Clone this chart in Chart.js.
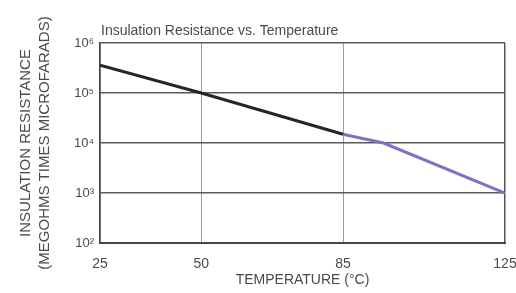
<!DOCTYPE html>
<html>
<head>
<meta charset="utf-8">
<script src="https://cdn.jsdelivr.net/npm/chart.js@4.4.1/dist/chart.umd.min.js"></script>
<style>
html,body{margin:0;padding:0;background:#fff;}
#wrap{width:516px;height:293px;position:relative;}
</style>
</head>
<body>
<div id="wrap"><canvas id="c" width="516" height="293"></canvas></div>
<script>
const chartTitle = 'Insulation Resistance vs. Temperature';
const xTitle = 'TEMPERATURE (°C)';
const yTitle = ['INSULATION RESISTANCE', '(MEGOHMS TIMES MICROFARADS)'];
const temperatures = [25, 50, 85, 95, 125];
const xTickValues = [25, 50, 85, 125];
const yTickValues = [100, 1000, 10000, 100000, 1000000];
const yTickLabels = ['10²', '10³', '10⁴', '10⁵', '10⁶'];
const resistanceLow = [360000, 100000, 15000, null, null];
const resistanceHigh = [null, null, 15000, 10000, 1000];

const FONT = "'Liberation Sans', Arial, sans-serif";
const TXT = '#4a4a4a';

const titlePlugin = {
  id: 'leftTitle',
  afterDraw(chart) {
    const {ctx, chartArea} = chart;
    ctx.save();
    ctx.font = '14px ' + FONT;
    ctx.fillStyle = TXT;
    ctx.textAlign = 'left';
    ctx.textBaseline = 'alphabetic';
    ctx.fillText(chartTitle, chartArea.left + 1, chartArea.top - 8);
    ctx.restore();
  }
};

const toPts = arr => temperatures.map((t, i) => ({x: t, y: arr[i]}));

new Chart(document.getElementById('c'), {
  type: 'line',
  data: {
    datasets: [
      {data: toPts(resistanceLow), borderColor: '#262626', borderWidth: 3, pointRadius: 0, tension: 0},
      {data: toPts(resistanceHigh), borderColor: '#7f72c6', borderWidth: 3, pointRadius: 0, tension: 0}
    ]
  },
  options: {
    responsive: false,
    animation: false,
    layout: {padding: {top: 43, right: 11, left: 0, bottom: 0}},
    plugins: {legend: {display: false}, tooltip: {enabled: false}, title: {display: false}},
    scales: {
      x: {
        type: 'linear',
        min: 25, max: 125,
        afterBuildTicks: s => { s.ticks = xTickValues.map(v => ({value: v})); },
        afterFit: s => { s.height = 50; s.paddingRight = 0; s.paddingLeft = 0; },
        grid: {
          drawTicks: false,
          color: c => (c.tick && c.tick.value === 125) ? '#555' : '#9a98b8',
          lineWidth: c => (c.tick && c.tick.value === 125) ? 1.5 : 1
        },
        border: {color: '#444', width: 2},
        ticks: {padding: 13, color: TXT, font: {family: FONT, size: 14}, maxRotation: 0, autoSkip: false,
                callback: v => String(v)},
        title: {display: true, text: xTitle, color: TXT, font: {family: FONT, size: 14}, padding: {top: 0, bottom: 4}}
      },
      y: {
        type: 'logarithmic',
        min: 100, max: 1000000,
        afterBuildTicks: s => { s.ticks = yTickValues.map(v => ({value: v})); },
        afterFit: s => { s.width = 100; s.paddingTop = 0; s.paddingBottom = 0; },
        grid: {drawTicks: false, color: '#5a5a5a', lineWidth: 1.5},
        border: {color: '#444', width: 1.5},
        ticks: {padding: 6, color: TXT, font: {family: FONT, size: 13},
                callback: v => { const i = yTickValues.indexOf(v); return i >= 0 ? yTickLabels[i] : ''; }},
        title: {display: true, text: yTitle, color: TXT, font: {family: FONT, size: 15, lineHeight: '19px'}, padding: {top: 16, bottom: 0}}
      }
    }
  },
  plugins: [titlePlugin]
});
</script>
</body>
</html>
